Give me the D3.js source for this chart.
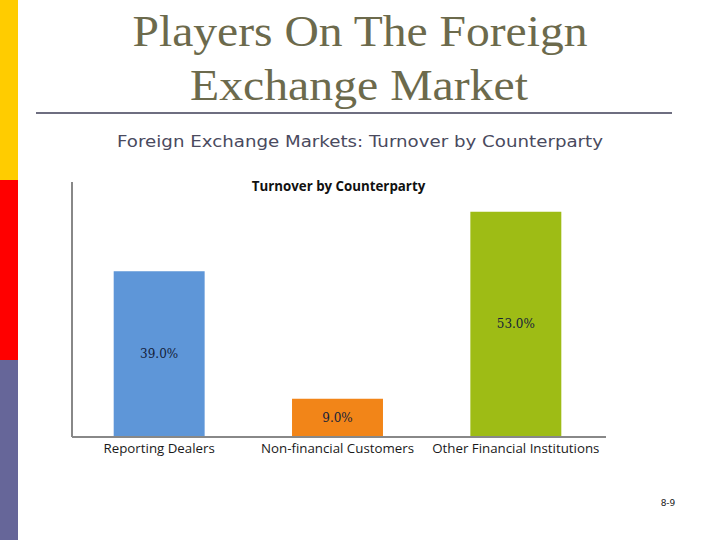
<!DOCTYPE html>
<html>
<head>
<meta charset="utf-8">
<script src="https://cdn.jsdelivr.net/npm/d3@7"></script>
<style>
  html, body { margin: 0; padding: 0; background: #fff; }
  svg { display: block; }
</style>
</head>
<body>
<div id="chart"></div>
<script>
const categories = ['Reporting Dealers', 'Non-financial Customers', 'Other Financial Institutions']
const shares = [39.0, 9.0, 53.0]
const barColors = ['#5e96d8', '#f28518', '#9ebc15']
const sideColors = ['#ffcc00', '#ff0000', '#666699']

const W = 720, H = 540
const layout = { left: 70, right: 605, top: 182, bottom: 437 }

const svg = d3.select('#chart').append('svg')
    .attr('width', W)
    .attr('height', H)

// slide side strip
svg.selectAll('.side')
    .data(sideColors)
    .enter()
    .append('rect')
    .attr('class', 'side')
    .attr('x', 0)
    .attr('y', (d, i) => i * 180)
    .attr('width', 18)
    .attr('height', 180)
    .attr('fill', d => d)

// slide title
const titleG = svg.append('g')
    .attr('font-family', '"Liberation Serif", "DejaVu Serif", serif')
    .attr('font-size', 45)
    .attr('fill', '#6c6a4c')
    .attr('text-anchor', 'middle')
    .attr('lengthAdjust', 'spacingAndGlyphs')
titleG.append('text').attr('x', 360).attr('y', 46).attr('textLength', 455).attr('lengthAdjust', 'spacingAndGlyphs').text('Players On The Foreign')
titleG.append('text').attr('x', 359).attr('y', 100).attr('textLength', 338).attr('lengthAdjust', 'spacingAndGlyphs').text('Exchange Market')

svg.append('path')
    .attr('d', 'M 36 113 H 672')
    .attr('stroke', '#6e6e80')
    .attr('stroke-width', 2)

svg.append('text')
    .attr('x', 360)
    .attr('y', 147)
    .attr('text-anchor', 'middle')
    .attr('font-family', '"DejaVu Sans", sans-serif')
    .attr('font-size', 15.5)
    .attr('fill', '#4a4a5e')
    .attr('textLength', 486)
    .attr('lengthAdjust', 'spacingAndGlyphs')
    .text('Foreign Exchange Markets: Turnover by Counterparty')

svg.append('text')
    .attr('x', 668)
    .attr('y', 506)
    .attr('text-anchor', 'middle')
    .attr('font-family', '"DejaVu Sans", sans-serif')
    .attr('font-size', 9)
    .attr('fill', '#222')
    .text('8-9')

// chart
const xScale = d3.scaleBand().domain(categories).range([layout.left, layout.right]).paddingInner(0.49).paddingOuter(0.245)
const yScale = d3.scaleLinear().domain([0, 60]).range([layout.bottom, layout.top])

const g = svg.append('g')

g.selectAll('.bar')
    .data(shares)
    .enter()
    .append('rect')
    .attr('class', 'bar')
    .attr('x', (d, i) => xScale(categories[i]))
    .attr('y', d => yScale(d))
    .attr('width', xScale.bandwidth())
    .attr('height', d => yScale(0) - yScale(d))
    .attr('fill', (d, i) => barColors[i])

g.selectAll('.bar-label')
    .data(shares)
    .enter()
    .append('text')
    .attr('class', 'bar-label')
    .attr('x', (d, i) => xScale(categories[i]) + xScale.bandwidth() / 2)
    .attr('y', d => (yScale(d) + yScale(0)) / 2 + 4)
    .attr('text-anchor', 'middle')
    .attr('font-family', '"DejaVu Serif", serif')
    .attr('font-size', 12)
    .attr('fill', '#14213a')
    .text(d => d3.format('.1f')(d) + '%')

const xAxis = d3.axisBottom(xScale).tickSize(0).tickPadding(7)
const xAxisEl = g.append('g')
    .attr('transform', `translate(0,${layout.bottom})`)
    .call(xAxis)
xAxisEl.select('.domain').attr('stroke', '#888').attr('stroke-width', 2).attr('d', `M ${layout.left + 2} 0 H ${layout.right + 1}`)
xAxisEl.selectAll('text')
    .attr('font-family', '"Open Sans", "Noto Sans", sans-serif')
    .attr('font-size', 13.3)
    .attr('fill', '#1a1a1a')

g.append('path')
    .attr('d', `M ${layout.left + 2} ${layout.top} V ${layout.bottom}`)
    .attr('stroke', '#888')
    .attr('stroke-width', 2)

g.append('text')
    .attr('x', 338.5)
    .attr('y', 191)
    .attr('text-anchor', 'middle')
    .attr('font-family', '"Open Sans", "Noto Sans", sans-serif')
    .attr('font-weight', 'bold')
    .attr('font-size', 13.3)
    .attr('fill', '#111')
    .text('Turnover by Counterparty')
</script>
</body>
</html>
